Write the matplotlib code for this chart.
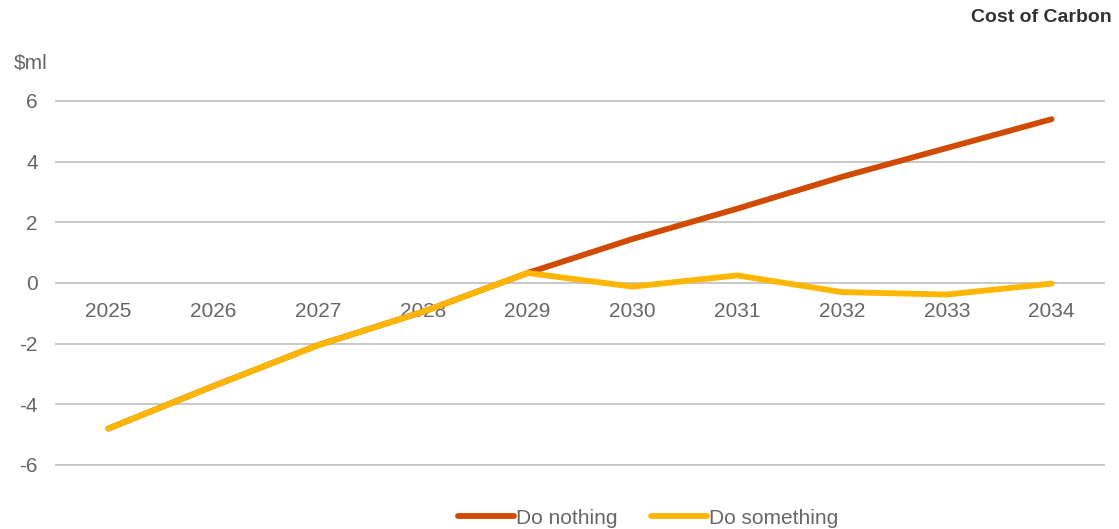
import numpy as np
import matplotlib.pyplot as plt

years = ['2025', '2026', '2027', '2028', '2029', '2030', '2031', '2032', '2033', '2034']
do_nothing = [-4.8, -3.4, -2.05, -0.95, 0.33, 1.45, 2.45, 3.5, 4.45, 5.4]
do_something = [-4.8, -3.4, -2.05, -0.95, 0.33, -0.12, 0.25, -0.3, -0.38, -0.02]
yticks = [-6, -4, -2, 0, 2, 4, 6]

plt.rcParams['font.family'] = ['Liberation Sans', 'DejaVu Sans']

fig = plt.figure(figsize=(11.19, 5.29), dpi=100)
ax = fig.add_axes([56 / 1119, 1 - 465 / 529, (1104 - 56) / 1119, (465 - 101) / 529])

x = np.arange(len(years))
ax.plot(x, do_nothing, color='#D04A02', lw=4.2, solid_capstyle='round',
        solid_joinstyle='round', label='Do nothing', zorder=3)
ax.plot(x, do_something, color='#FFB600', lw=4.2, solid_capstyle='round',
        solid_joinstyle='round', label='Do something', zorder=4)

ax.set_xlim(-0.5, len(years) - 0.5)
ax.set_ylim(-6, 6)
ax.set_yticks(yticks)
ax.set_yticklabels([str(v) for v in yticks])
ax.set_xticks(x)
ax.set_xticklabels(years)
for v in yticks:
    ax.axhline(v, color='#C4C4C4', lw=1.3, zorder=1, clip_on=False)

for s in ['top', 'right', 'left']:
    ax.spines[s].set_visible(False)
ax.spines['bottom'].set_position(('data', 0))
ax.spines['bottom'].set_visible(False)
ax.tick_params(axis='both', length=0, labelsize=15, labelcolor='#666666')
ax.tick_params(axis='x', pad=14)
ax.tick_params(axis='y', pad=13)

fig.text(48 / 1119, 1 - 63 / 529, '\\$ml', ha='right', va='center', fontsize=15, color='#666666')
fig.text(1112 / 1119, 1 - 18 / 529, 'Cost of Carbon', ha='right', va='center',
         fontsize=14, fontweight='bold', color='#333333')

fig.legend(loc='center', bbox_to_anchor=(648 / 1119, 1 - 518 / 529), ncol=2, frameon=False,
           fontsize=15, handlelength=2.7, handletextpad=0.1, columnspacing=1.6,
           labelcolor='#666666')

fig.savefig('out.png', dpi=100)
